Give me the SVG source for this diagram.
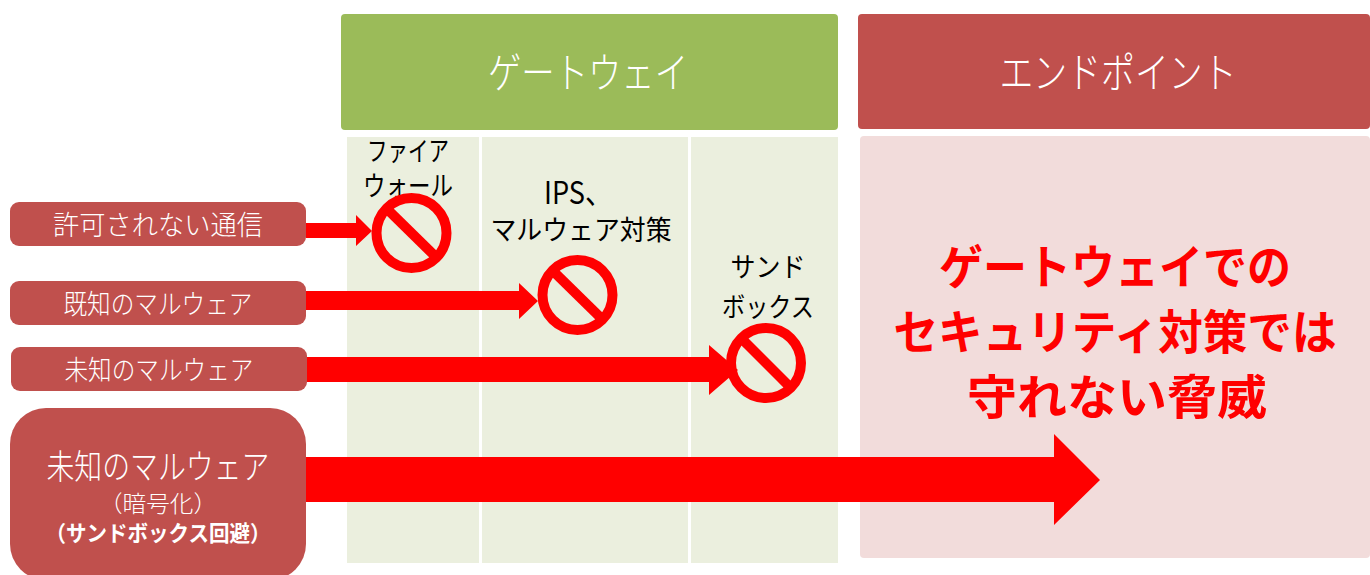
<svg xmlns="http://www.w3.org/2000/svg" width="1370" height="575" viewBox="0 0 1370 575">
<style>
text{font-family:"Noto Sans CJK JP","Liberation Sans",sans-serif;text-anchor:middle;font-weight:300}
.w{fill:#fff}.k{fill:#000;font-weight:400}.col{fill:#ebefde}.red{fill:#c0504d}.ar{fill:#f00}
.b{font-weight:700}
.no circle{fill:none;stroke:#f00;stroke-width:10}
.no line{stroke:#f00;stroke-width:10}
</style>
<rect width="1370" height="575" fill="#fff"/>
<g id="header-gateway"><rect x="341" y="14" width="497" height="116" rx="4" fill="#9bbb59"/><text class="w" x="588" y="88" font-size="42" textLength="200" lengthAdjust="spacingAndGlyphs">ゲートウェイ</text></g>
<g id="header-endpoint"><rect class="red" x="858" y="14" width="512" height="115" rx="4"/><text class="w" x="1118" y="88" font-size="42" textLength="237" lengthAdjust="spacingAndGlyphs">エンドポイント</text></g>
<g id="col-firewall"><rect class="col" x="347" y="137" width="132" height="426"/><text class="k" x="408" y="161" font-size="27" textLength="82" lengthAdjust="spacingAndGlyphs">ファイア</text><text class="k" x="408" y="196" font-size="27" textLength="90" lengthAdjust="spacingAndGlyphs">ウォール</text></g>
<g id="col-ips"><rect class="col" x="482" y="137" width="206" height="426"/><text class="k" x="578" y="204" font-size="31" textLength="68" lengthAdjust="spacingAndGlyphs">IPS、</text><text class="k" x="581" y="240" font-size="27" textLength="181" lengthAdjust="spacingAndGlyphs">マルウェア対策</text></g>
<g id="col-sandbox"><rect class="col" x="691" y="137" width="147" height="426"/><text class="k" x="768" y="277" font-size="27" textLength="75" lengthAdjust="spacingAndGlyphs">サンド</text><text class="k" x="768" y="317" font-size="27" textLength="92" lengthAdjust="spacingAndGlyphs">ボックス</text></g>
<g id="endpoint-panel"><rect x="860" y="136" width="510" height="422" rx="4" fill="#f2dcdb"/><g fill="#f00" font-size="47"><text class="b" x="1115" y="284" textLength="352" lengthAdjust="spacingAndGlyphs">ゲートウェイでの</text><text class="b" x="1115" y="349" textLength="443" lengthAdjust="spacingAndGlyphs">セキュリティ対策では</text><text class="b" x="1117" y="414" textLength="300" lengthAdjust="spacingAndGlyphs">守れない脅威</text></g></g>
<g id="connectors">
<path class="ar" d="M306 223H356V215L372 231L356 246V238H306Z"/>
<path class="ar" d="M306 291H519V283L538 301L519 319V310H306Z"/>
<path class="ar" d="M306 357H709V345L738 370L709 395V382H306Z"/>
<path class="ar" d="M306 457H1054V434L1100 480L1054 525V502H306Z"/>
</g>
<g id="source-1"><rect class="red" x="10" y="202" width="296" height="44" rx="9"/><text class="w" x="158" y="235" font-size="27" textLength="210" lengthAdjust="spacingAndGlyphs">許可されない通信</text></g>
<g id="source-2"><rect class="red" x="10" y="281" width="296" height="44" rx="9"/><text class="w" x="158" y="314" font-size="27" textLength="189" lengthAdjust="spacingAndGlyphs">既知のマルウェア</text></g>
<g id="source-3"><rect class="red" x="11" y="347" width="296" height="44" rx="9"/><text class="w" x="159" y="380" font-size="27" textLength="189" lengthAdjust="spacingAndGlyphs">未知のマルウェア</text></g>
<g id="source-4"><rect class="red" x="10" y="408" width="296" height="172" rx="36"/><text class="w" x="158" y="479" font-size="34" textLength="223" lengthAdjust="spacingAndGlyphs">未知のマルウェア</text><text class="w" x="158" y="512" font-size="23" textLength="118" lengthAdjust="spacingAndGlyphs">（暗号化）</text><text class="w b" x="158" y="541" font-size="22" textLength="225" lengthAdjust="spacingAndGlyphs">（サンドボックス回避）</text></g>
<g id="block-1" class="no"><circle cx="411.500" cy="233" r="35"/><line x1="386" y1="208" x2="437" y2="258"/></g>
<g id="block-2" class="no"><circle cx="577.500" cy="295" r="35"/><line x1="552" y1="270" x2="603" y2="320"/></g>
<g id="block-3" class="no"><circle cx="766" cy="363" r="35"/><line x1="741" y1="338" x2="791" y2="388"/></g>
</svg>
